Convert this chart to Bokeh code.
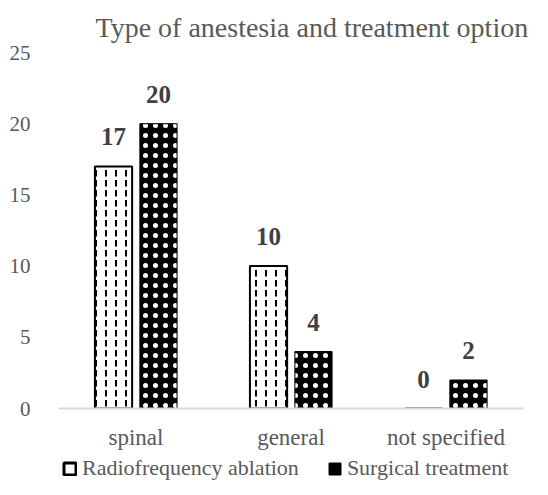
from bokeh.plotting import figure
from bokeh.layouts import column
from bokeh.models import ColumnDataSource, Legend, LegendItem, Range1d, FixedTicker, LabelSet
from bokeh.transform import dodge
from bokeh.embed import file_html
from bokeh.resources import INLINE

categories = ["spinal", "general", "not specified"]
radiofrequency = [17, 10, 0]
surgical = [20, 4, 2]
y_ticks = [0, 5, 10, 15, 20, 25]
series_names = ["Radiofrequency ablation", "Surgical treatment"]

FONT = "Liberation Serif"
GRAY = "#595959"

src = ColumnDataSource(dict(
    cat=categories,
    rf=radiofrequency,
    sx=surgical,
    rf_lbl=[str(v) for v in radiofrequency],
    sx_lbl=[str(v) for v in surgical],
))

p = figure(x_range=categories, y_range=Range1d(0, 25),
           width=548, height=452,
           output_backend="svg", toolbar_location=None,
           min_border_left=58, min_border_right=25,
           min_border_top=52, min_border_bottom=42)

p.title.text = "Type of anestesia and treatment option"
p.title.text_font = FONT
p.title.text_font_size = "28px"
p.title.text_font_style = "normal"
p.title.text_color = GRAY
p.title.align = "left"
p.title.offset = 37
p.title.standoff = 19

p.outline_line_color = None
p.grid.grid_line_color = None
p.background_fill_color = "white"
p.border_fill_color = "white"

RF_STYLE = dict(fill_color="white", line_color="black", line_width=2)
SX_STYLE = dict(fill_color="black", line_color="black", line_width=1)

p.vbar(x=dodge("cat", -0.145, range=p.x_range), top="rf", width=0.24, source=src,
       hatch_pattern="vertical_dash", hatch_color="black",
       hatch_scale=10, hatch_weight=2, **RF_STYLE)
p.vbar(x=dodge("cat", 0.145, range=p.x_range), top="sx", width=0.24, source=src,
       hatch_pattern="dot", hatch_color="white",
       hatch_scale=10, hatch_weight=1, **SX_STYLE)

for col, lbl, off in (("rf", "rf_lbl", -0.145), ("sx", "sx_lbl", 0.145)):
    p.add_layout(LabelSet(x=dodge("cat", off, range=p.x_range), y=col, text=lbl, source=src,
                          text_align="center", text_baseline="bottom", y_offset=21,
                          text_font=FONT, text_font_size="25px", text_font_style="bold",
                          text_color="#404040"))

p.yaxis.ticker = FixedTicker(ticks=y_ticks)
p.yaxis.axis_line_color = None
p.yaxis.major_tick_line_color = None
p.yaxis.minor_tick_line_color = None
p.yaxis.major_label_standoff = 22
p.yaxis.major_label_text_font = FONT
p.yaxis.major_label_text_font_size = "21px"
p.yaxis.major_label_text_color = GRAY

p.xaxis.axis_line_color = "#d9d9d9"
p.xaxis.axis_line_width = 2
p.xaxis.major_tick_line_color = None
p.xaxis.minor_tick_line_color = None
p.xaxis.major_label_standoff = 10
p.xaxis.major_label_text_font = FONT
p.xaxis.major_label_text_font_size = "23px"
p.xaxis.major_label_text_color = GRAY

# legend strip under the chart; its swatch renderers are hidden and only feed the legend
leg = figure(width=548, height=43, x_range=Range1d(0, 1), y_range=Range1d(0, 1),
             output_backend="svg", toolbar_location=None,
             min_border_left=58, min_border_right=25,
             min_border_top=0, min_border_bottom=0)
leg.axis.visible = False
leg.grid.visible = False
leg.outline_line_color = None
leg.border_fill_color = "white"
rf_key = leg.vbar(x="rf", top="rf", width=1, source=src, visible=False,
                  fill_color="white", line_color="black", line_width=3)
sx_key = leg.vbar(x="sx", top="sx", width=1, source=src, visible=False,
                  fill_color="black", line_color="black", line_width=1)

legend = Legend(items=[LegendItem(label=series_names[0], renderers=[rf_key]),
                       LegendItem(label=series_names[1], renderers=[sx_key])],
                orientation="horizontal", location=(4, 14),
                label_text_font=FONT, label_text_font_size="22px", label_text_color=GRAY,
                glyph_width=15, glyph_height=15, spacing=28, label_standoff=5,
                border_line_color=None, background_fill_alpha=0,
                inactive_fill_alpha=0, padding=0, margin=0)
leg.add_layout(legend, "center")

layout = column(p, leg, spacing=0)
open("out.html", "w").write(file_html(layout, INLINE))
